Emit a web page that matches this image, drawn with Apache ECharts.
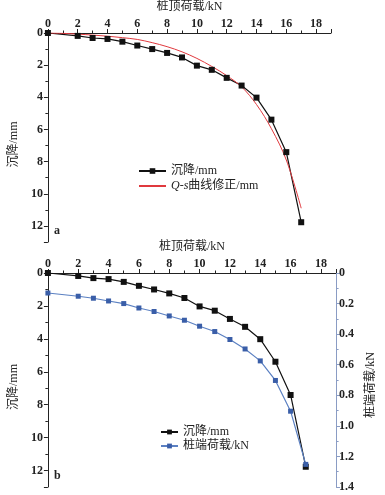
<!DOCTYPE html>
<html><head><meta charset="utf-8">
<script src="https://cdn.jsdelivr.net/npm/echarts@6/dist/echarts.min.js"></script>
<style>html,body{margin:0;padding:0;background:#fff}#c{width:385px;height:495px}</style>
</head><body><div id="c"></div>
<script>
// data
const loads = [0, 2, 3, 4, 5, 6, 7, 8, 9, 10, 11, 12, 13, 14, 15, 16, 17];
const settlement = [0, 0.18, 0.31, 0.37, 0.54, 0.78, 1.0, 1.24, 1.52, 2.03, 2.29, 2.79, 3.27, 4.02, 5.39, 7.41, 11.77];
const fitLoads = [0, 1, 2, 3, 4, 5, 6, 7, 8, 9, 10, 11, 12, 13, 14, 15, 16, 17];
const fitSettlement = [0, 0.02, 0.07, 0.13, 0.2, 0.29, 0.4, 0.6, 0.85, 1.17, 1.58, 2.08, 2.65, 3.35, 4.45, 5.95, 7.9, 10.9];
const tipLoad = [0.131, 0.152, 0.165, 0.183, 0.2, 0.229, 0.252, 0.281, 0.309, 0.348, 0.383, 0.435, 0.497, 0.575, 0.703, 0.904, 1.252];
const nameTop = '桩顶荷载/kN';
const nameSettle = '沉降/mm';
const nameFit = 'Q-s曲线修正/mm';
const nameTip = '桩端荷载/kN';

const F = "'Liberation Serif','Noto Sans CJK SC',serif";
const pair = (xs, ys) => xs.map((x, i) => [x, ys[i]]);

function xAxisCfg(gi) {
  return {
    gridIndex: gi, type: 'value', position: 'top', min: 0, max: 19, interval: 2,
    name: nameTop, nameLocation: 'middle', nameGap: 20,
    nameTextStyle: { fontFamily: F, fontSize: 12, color: '#222' },
    axisLine: { show: true, lineStyle: { color: '#222', width: 1 } },
    axisTick: { show: true, inside: false, length: 4, lineStyle: { color: '#222' } },
    minorTick: { show: true, splitNumber: 2, length: 2.5, lineStyle: { color: '#222' } },
    axisLabel: { fontFamily: F, fontSize: 12, fontWeight: 'bold', color: '#222', margin: 3, showMaxLabel: false },
    splitLine: { show: false }
  };
}
function yLeft(gi) {
  return {
    gridIndex: gi, type: 'value', inverse: true, min: 0, max: 13, interval: 2, position: 'left',
    name: nameSettle, nameLocation: 'middle', nameGap: 19, nameRotate: 90,
    nameTextStyle: { fontFamily: F, fontSize: 12, color: '#222', padding: [0, 14, 0, 0] },
    axisLine: { show: true, lineStyle: { color: '#222', width: 1 } },
    axisTick: { show: true, inside: false, length: 4, lineStyle: { color: '#222' } },
    minorTick: { show: true, splitNumber: 2, length: 2.5, lineStyle: { color: '#222' } },
    axisLabel: { fontFamily: F, fontSize: 12, fontWeight: 'bold', color: '#222', margin: 5, showMaxLabel: false },
    splitLine: { show: false }
  };
}

const option = {
  backgroundColor: '#fff',
  animation: false,
  grid: [
    { left: 44, top: 27, right: 54, bottom: 253 },
    { left: 43, top: 273, right: 48, bottom: 8 }
  ],
  xAxis: [xAxisCfg(0), xAxisCfg(1)],
  yAxis: [
    yLeft(0),
    yLeft(1),
    {
      gridIndex: 1, type: 'value', inverse: true, min: 0, max: 1.4, interval: 0.2, position: 'right',
      name: nameTip, nameLocation: 'middle', nameGap: 24, nameRotate: 90,
      nameTextStyle: { fontFamily: F, fontSize: 12, color: '#222', padding: [0, 10, 0, 0] },
      axisLine: { show: true, lineStyle: { color: '#8a9cc4', width: 1 } },
      axisTick: { show: true, inside: false, length: 4, lineStyle: { color: '#8a9cc4' } },
      minorTick: { show: true, splitNumber: 2, length: 2.5, lineStyle: { color: '#8a9cc4' } },
      axisLabel: { fontFamily: F, fontSize: 12, fontWeight: 'bold', color: '#222', margin: 3,
        formatter: v => v === 0 ? '0' : v.toFixed(1) },
      splitLine: { show: false }
    }
  ],
  legend: [
    {
      orient: 'vertical', left: 133, top: 160, itemWidth: 27, itemHeight: 7, itemGap: 3,
      textStyle: { fontFamily: F, fontSize: 12, color: '#222', rich: { i: { fontStyle: 'italic', fontFamily: F, fontSize: 12, color: '#222' } } },
      formatter: n => n === nameFit ? '{i|Q-s}曲线修正/mm' : n,
      data: [{ name: nameSettle }, { name: nameFit, itemStyle: { opacity: 0 } }]
    },
    {
      orient: 'vertical', left: 155, top: 421, itemWidth: 17, itemHeight: 6, itemGap: 2,
      textStyle: { fontFamily: F, fontSize: 12, color: '#222' },
      data: [{ name: nameSettle + ' ' }, { name: nameTip }]
    }
  ],
  graphic: [
    { type: 'text', left: 54, top: 225, style: { text: 'a', font: "bold 12px 'Liberation Serif'", fill: '#222' } },
    { type: 'text', left: 54, top: 470, style: { text: 'b', font: "bold 12px 'Liberation Serif'", fill: '#222' } }
  ],
  series: [
    {
      name: nameSettle, type: 'line', xAxisIndex: 0, yAxisIndex: 0, data: pair(loads, settlement),
      symbol: 'rect', symbolSize: 6, itemStyle: { color: '#111' }, lineStyle: { color: '#111', width: 1.2 }
    },
    {
      name: nameFit, type: 'line', xAxisIndex: 0, yAxisIndex: 0, data: pair(fitLoads, fitSettlement),
      symbol: 'none', smooth: 0.35, itemStyle: { color: '#e0393e' }, lineStyle: { color: '#e0393e', width: 1 }
    },
    {
      name: nameSettle + ' ', type: 'line', xAxisIndex: 1, yAxisIndex: 1, data: pair(loads, settlement),
      symbol: 'rect', symbolSize: 6, itemStyle: { color: '#111' }, lineStyle: { color: '#111', width: 1.2 }
    },
    {
      name: nameTip, type: 'line', xAxisIndex: 1, yAxisIndex: 2, data: pair(loads, tipLoad),
      symbol: 'rect', symbolSize: 5, itemStyle: { color: '#3a5ea8' }, lineStyle: { color: '#5b80c2', width: 1.2 }
    }
  ]
};
const chart = echarts.init(document.getElementById('c'), null, { renderer: 'canvas' });
chart.setOption(option);
</script></body></html>
